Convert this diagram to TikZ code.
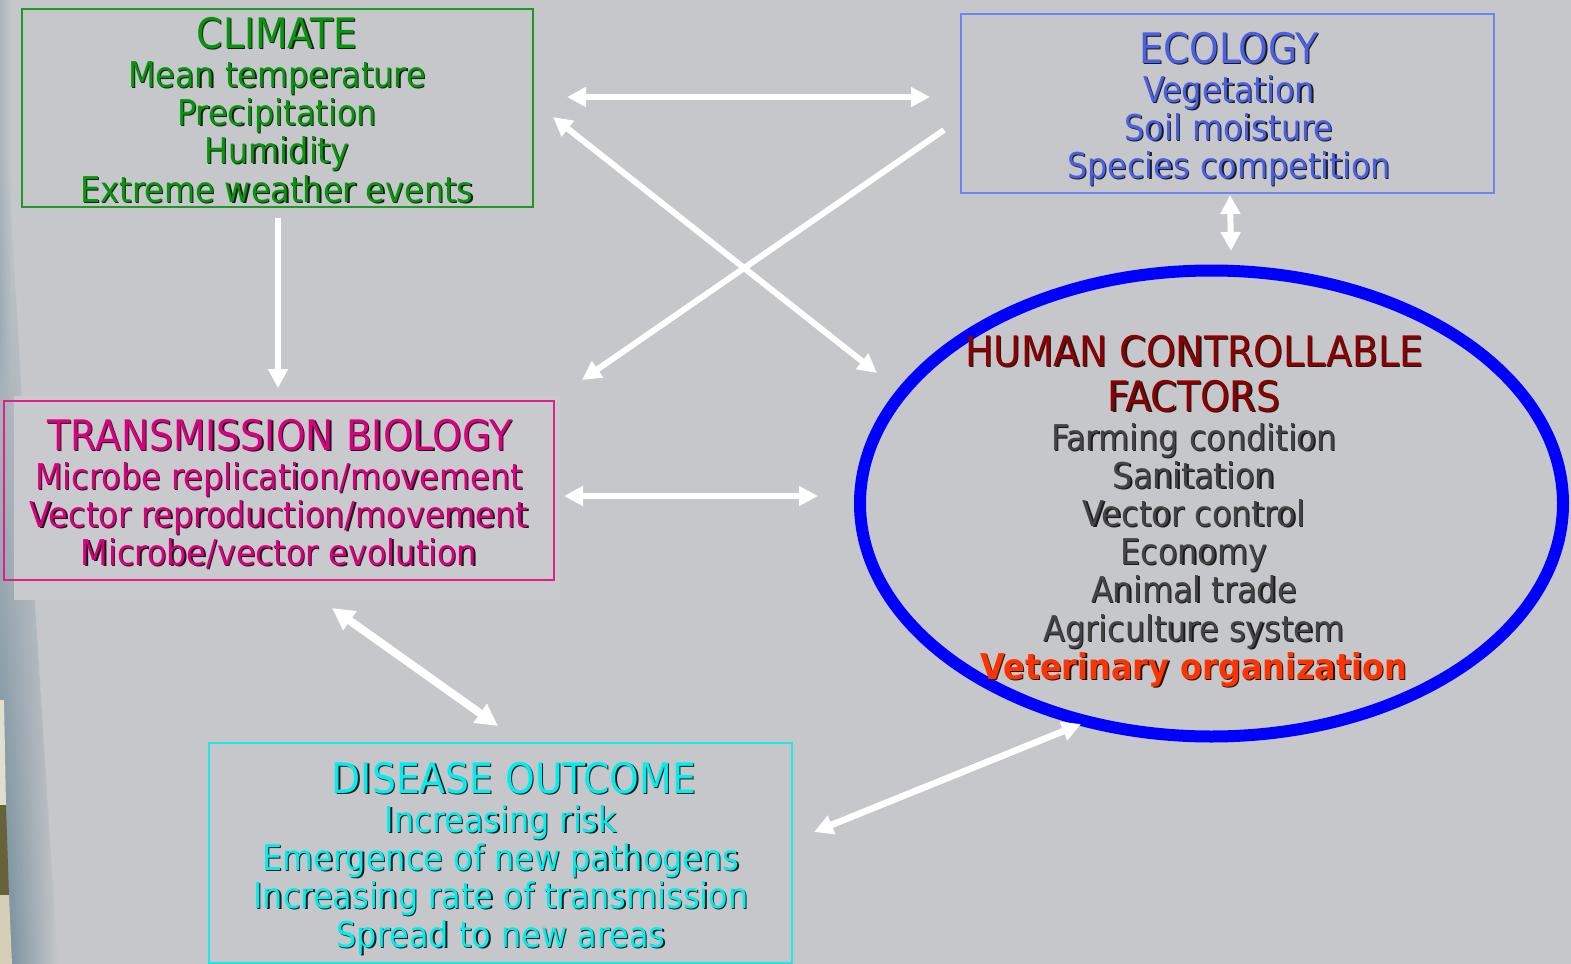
\documentclass[tikz,border=0pt]{standalone}
\usepackage{fontspec}
\setmainfont{DejaVu Sans Condensed}[BoldFont={DejaVu Sans Condensed Bold}]
\usetikzlibrary{arrows.meta,shapes.geometric,fadings}

\definecolor{bg}{HTML}{C6C7CA}
\definecolor{bglight}{HTML}{C9CACD}
\definecolor{edgeTop}{RGB}{168,182,190}
\definecolor{edgeLow}{RGB}{108,136,152}
\definecolor{photoA}{RGB}{226,222,206}
\definecolor{photoB}{RGB}{104,98,58}
\definecolor{photoC}{RGB}{214,206,182}
\definecolor{shadowc}{HTML}{1A1A1A}
\definecolor{climG}{HTML}{06960B}
\definecolor{climB}{HTML}{1E9A24}
\definecolor{ecoT}{HTML}{4A60E0}
\definecolor{ecoB}{HTML}{6E84F2}
\definecolor{transT}{HTML}{D8007F}
\definecolor{transB}{HTML}{E0208A}
\definecolor{disT}{HTML}{00EEEE}
\definecolor{disB}{HTML}{22E6E6}
\definecolor{humR}{HTML}{8C0000}
\definecolor{humG}{HTML}{444444}
\definecolor{vetO}{HTML}{FF3300}
\definecolor{ellB}{HTML}{0000FF}

% opacity ramp for the photo edge: clear at the top, solid lower down
\tikzfading[name=edgefade, top color=transparent!100, middle color=transparent!15, bottom color=transparent!0]
\tikzfading[name=topfade, top color=transparent!0, bottom color=transparent!100]

% text with a small dark drop shadow
\newcommand\shd[2]{\rlap{\hspace{0.65pt}\raisebox{-0.65pt}{\color{shadowc}#2}}{\color{#1}#2}}

\tikzset{
  body/.style={anchor=base, inner sep=0pt, font=\fontsize{17.75}{21}\selectfont},
  head/.style={anchor=base, inner sep=0pt, font=\fontsize{21}{25}\selectfont},
  frame/.style={draw, rectangle, inner sep=0pt},
  warrow/.style={draw=white, line width=3pt, -{Triangle[length=9.5pt,width=9.5pt]}},
  wboth/.style={draw=white, line width=3pt, {Triangle[length=9.5pt,width=9.5pt]}-{Triangle[length=9.5pt,width=9.5pt]}},
}

\begin{document}
\begin{tikzpicture}[x=0.5pt,y=-0.5pt]
\useasboundingbox (0,0) rectangle (1571,964);
\fill[bg] (0,0) rectangle (1571,964);

% left edge of the backdrop photo
\shade[left color=edgeTop, right color=bg] (0,0) rectangle (12,330);
\shade[left color=edgeTop, right color=bg, path fading=topfade] (0,330) rectangle (12,420);
\shade[left color=edgeLow, right color=bg, path fading=edgefade] (0,160) -- (8,160) -- (22,400) -- (58,964) -- (0,964) -- cycle;
\fill[photoA] (0,700) -- (4,700) -- (6,805) -- (0,805) -- cycle;
\fill[photoB] (0,805) -- (6,805) -- (9,895) -- (0,895) -- cycle;
\fill[photoC] (0,895) -- (9,895) -- (12,964) -- (0,964) -- cycle;
\fill[bglight] (14,396) rectangle (560,600);

% boxes
\node[frame, draw=climB, line width=1pt, minimum width=255.5pt, minimum height=99pt] (climate) at (277.5,108) {};
\node[frame, draw=ecoB, line width=0.8pt, minimum width=266.5pt, minimum height=89.5pt] (ecology) at (1227.5,103.5) {};
\node[frame, draw=transB, line width=1pt, minimum width=275pt, minimum height=89.5pt] (trans) at (279,490.5) {};
\node[frame, draw=disB, line width=1pt, minimum width=291.5pt, minimum height=110pt] (disease) at (500.5,853) {};
\node[draw=ellB, line width=6pt, ellipse, inner sep=0pt, minimum width=351.5pt, minimum height=233pt] (human) at (1211.5,503.5) {};

% climate
\node[head] (c0) at (277,48.5) {\shd{climG}{CLIMATE}};
\node[body] (c1) at (277,87.5) {\shd{climG}{Mean temperature}};
\node[body] (c2) at (277,125.5) {\shd{climG}{Precipitation}};
\node[body] (c3) at (277,163.5) {\shd{climG}{Humidity}};
\node[body] (c4) at (277,202) {\shd{climG}{Extreme weather events}};

% ecology
\node[head] (e0) at (1229,63.5) {\shd{ecoT}{ECOLOGY}};
\node[body] (e1) at (1229,102.5) {\shd{ecoT}{Vegetation}};
\node[body] (e2) at (1229,140.5) {\shd{ecoT}{Soil moisture}};
\node[body] (e3) at (1229,178.5) {\shd{ecoT}{Species competition}};

% transmission biology
\node[head] (t0) at (280,450.5) {\shd{transT}{TRANSMISSION BIOLOGY}};
\node[body] (t1) at (279,489.5) {\shd{transT}{Microbe replication/movement}};
\node[body] (t2) at (279,527.5) {\shd{transT}{Vector reproduction/movement}};
\node[body] (t3) at (279,565.5) {\shd{transT}{Microbe/vector evolution}};

% disease outcome
\node[head] (d0) at (514,793.5) {\shd{disT}{DISEASE OUTCOME}};
\node[body] (d1) at (501,832.5) {\shd{disT}{Increasing risk}};
\node[body] (d2) at (501,870.5) {\shd{disT}{Emergence of new pathogens}};
\node[body] (d3) at (501,908.5) {\shd{disT}{Increasing rate of transmission}};
\node[body] (d4) at (501,947.5) {\shd{disT}{Spread to new areas}};

% human controllable factors
\node[head] (h0) at (1194,366.5) {\shd{humR}{HUMAN CONTROLLABLE}};
\node[head] (h1) at (1194,411.5) {\shd{humR}{FACTORS}};
\node[body] (h2) at (1194,450.5) {\shd{humG}{Farming condition}};
\node[body] (h3) at (1194,488.5) {\shd{humG}{Sanitation}};
\node[body] (h4) at (1194,526.5) {\shd{humG}{Vector control}};
\node[body] (h5) at (1194,564.5) {\shd{humG}{Economy}};
\node[body] (h6) at (1194,602.5) {\shd{humG}{Animal trade}};
\node[body] (h7) at (1194,641.5) {\shd{humG}{Agriculture system}};
\node[body] (h8) at (1194,679.5) {\bfseries\shd{vetO}{Veterinary organization}};

% connector end points
\coordinate (ce1) at (567,97);
\coordinate (ce2) at (930,97);
\coordinate (ch1) at (553,117);
\coordinate (ch2) at (877,373);
\coordinate (et1) at (944,130);
\coordinate (et2) at (582,380);
\coordinate (ct1) at (278,218);
\coordinate (ct2) at (278,388);
\coordinate (eh1) at (1230,195);
\coordinate (eh2) at (1231,251);
\coordinate (th1) at (564,496);
\coordinate (th2) at (818,496);
\coordinate (td1) at (332,608);
\coordinate (td2) at (498,726);
\coordinate (dh1) at (814,832);
\coordinate (dh2) at (1081,724);

% connectors
\draw[wboth] (ce1) -- (ce2);
\draw[wboth] (ch1) -- (ch2);
\draw[warrow] (et1) -- (et2);
\draw[warrow] (ct1) -- (ct2);
\draw[wboth] (eh1) -- (eh2);
\draw[wboth, line width=2.6pt] (th1) -- (th2);
\draw[draw=white, line width=4pt, {Triangle[length=11pt,width=11pt]}-{Triangle[length=11pt,width=11pt]}] (td1) -- (td2);
\draw[wboth, line width=3.3pt] (dh1) -- (dh2);
\end{tikzpicture}
\end{document}
